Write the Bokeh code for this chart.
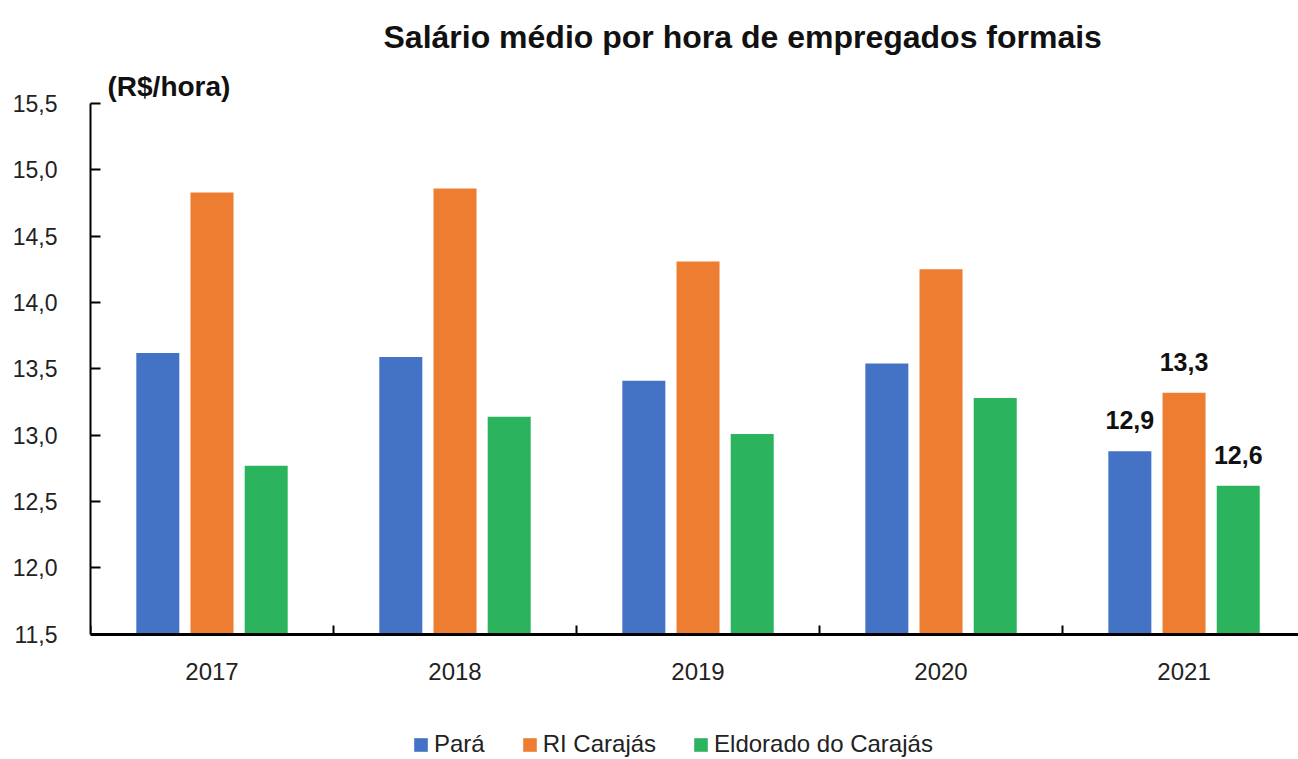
from bokeh.plotting import figure
from bokeh.models import (ColumnDataSource, Range1d, FixedTicker, CustomJSTickFormatter,
                          Title, Legend, LegendItem)
from bokeh.transform import dodge
from bokeh.core.properties import value
from bokeh.embed import file_html
from bokeh.resources import INLINE

# ---- data ----
years = [2017, 2018, 2019, 2020, 2021]
para = [13.62, 13.59, 13.41, 13.54, 12.88]
ri_carajas = [14.83, 14.86, 14.31, 14.25, 13.32]
eldorado = [12.77, 13.14, 13.01, 13.28, 12.62]
series_names = ["Pará", "RI Carajás", "Eldorado do Carajás"]
labels_2021 = ["12,9", "13,3", "12,6"]
y_ticks = [11.5, 12.0, 12.5, 13.0, 13.5, 14.0, 14.5, 15.0, 15.5]
y_min, y_max = 11.5, 15.5

colors = ["#4472C4", "#ED7D31", "#2BB35E"]
FONT = "Liberation Sans"

src = ColumnDataSource(dict(x=years, para=para, ri=ri_carajas, eld=eldorado))

p = figure(width=1298, height=759, output_backend="svg", toolbar_location=None,
           x_range=Range1d(2016.5, 2021.471), y_range=Range1d(10.556, y_max),
           min_border_left=90, min_border_right=0, min_border_top=103,
           min_border_bottom=0, title=None)
p.outline_line_color = None
p.xgrid.visible = False
p.ygrid.visible = False
p.background_fill_color = "white"
p.border_fill_color = "white"

# unit label (closest to frame) and main title (outermost)
p.add_layout(Title(text="(R$/hora)", align="left", offset=17, standoff=4,
                   text_font=FONT, text_font_size="28px", text_font_style="bold",
                   text_color="#111111"), "above")
p.add_layout(Title(text="Salário médio por hora de empregados formais", align="left",
                   offset=293, standoff=24, text_font=FONT, text_font_size="32px",
                   text_font_style="bold", text_color="#111111"), "above")

offsets = [-0.223, 0.0, 0.223]
fields = ["para", "ri", "eld"]
renderers = []
for f, off, c in zip(fields, offsets, colors):
    r = p.vbar(x=dodge("x", off), top=f, bottom=y_min, width=0.177, source=src,
               fill_color=c, line_color=None)
    renderers.append(r)

# data labels for 2021
lab_src = ColumnDataSource(dict(
    x=[years[-1] + o for o in offsets],
    y=[para[-1], ri_carajas[-1], eldorado[-1]],
    t=labels_2021))
p.text(x="x", y="y", text="t", source=lab_src, text_align="center",
       text_baseline="bottom", y_offset=-22, text_font=value(FONT),
       text_font_size="25px", text_font_style="bold", text_color="#111111")

# y axis
yax = p.yaxis[0]
yax.ticker = FixedTicker(ticks=y_ticks)
yax.bounds = (y_min, y_max)
yax.formatter = CustomJSTickFormatter(code="return tick.toFixed(1).replace('.', ',');")
yax.axis_line_width = 2
yax.axis_line_color = "black"
yax.major_tick_in = 10
yax.major_tick_out = 0
yax.major_tick_line_width = 2
yax.minor_tick_line_color = None
yax.major_label_standoff = 33
yax.major_label_text_font = FONT
yax.major_label_text_font_size = "23px"
yax.major_label_text_color = "#222222"

# x axis, drawn at the bottom of the value range
xax = p.xaxis[0]
xax.fixed_location = y_min
xax.ticker = FixedTicker(ticks=years, minor_ticks=[y - 0.5 for y in years] + [years[-1] + 0.5])
xax.formatter = CustomJSTickFormatter(code="return String(tick);")
xax.axis_line_width = 3
xax.axis_line_color = "black"
xax.major_tick_in = 0
xax.major_tick_out = 0
xax.minor_tick_in = 9
xax.minor_tick_out = 0
xax.minor_tick_line_width = 2
xax.minor_tick_line_color = "black"
xax.major_label_standoff = 29
xax.major_label_text_font = FONT
xax.major_label_text_font_size = "24px"
xax.major_label_text_color = "#222222"

legend = Legend(items=[LegendItem(label=n, renderers=[r]) for n, r in zip(series_names, renderers)],
                orientation="horizontal", location=(322, 1),
                glyph_width=17, glyph_height=17, label_standoff=5, spacing=36,
                padding=0, margin=0, border_line_color=None, background_fill_alpha=0,
                label_text_font=FONT, label_text_font_size="24px", label_text_color="#222222")
p.add_layout(legend, "center")

open("out.html", "w").write(file_html(p, INLINE))
